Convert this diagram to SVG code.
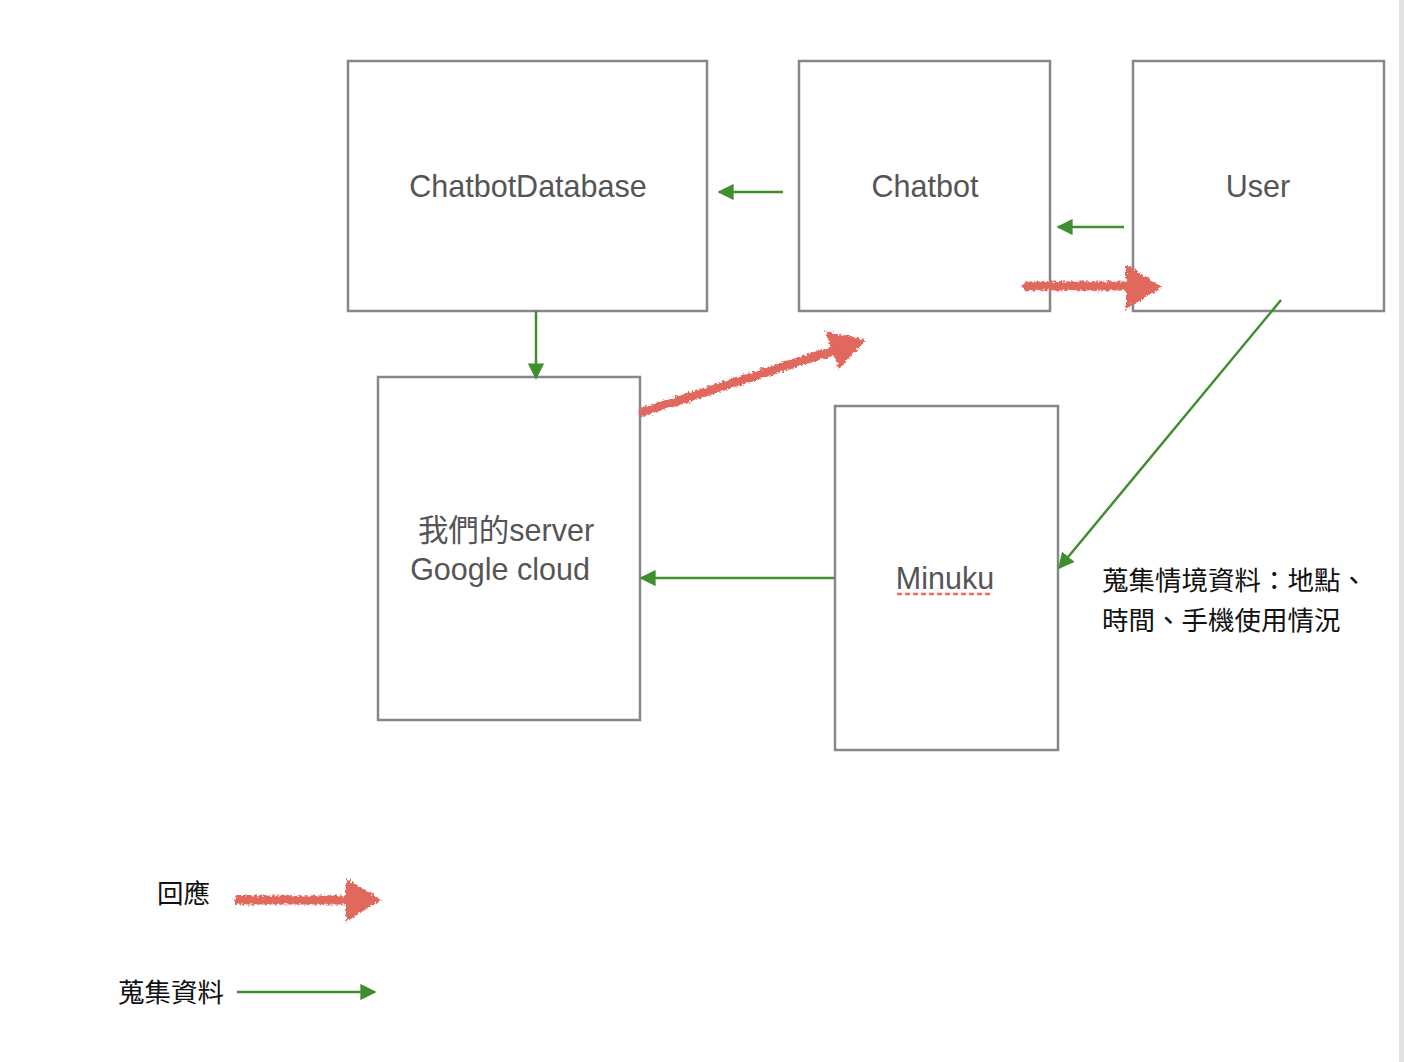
<svg xmlns="http://www.w3.org/2000/svg" width="1404" height="1062" viewBox="0 0 1404 1062">
<style>
.box{fill:#fff;stroke:#87868b;stroke-width:2.5}
.lbl{font-family:"Liberation Sans","Noto Sans CJK TC",sans-serif;font-size:30.5px;fill:#555;text-anchor:middle}
.note{font-family:"Noto Sans CJK TC","Noto Sans CJK SC",sans-serif;font-size:26.5px;fill:#111}
.g{stroke:#3f8f2f;stroke-width:2.5;fill:none;marker-end:url(#gh)}
.r{stroke:#e0685c;stroke-width:9;fill:none;stroke-linecap:round;filter:url(#rough)}
.rh{fill:#e0685c;filter:url(#rough)}
</style>
<defs>
<marker id="gh" viewBox="0 0 10 10" refX="9" refY="5" markerWidth="6.5" markerHeight="6.5" markerUnits="strokeWidth" orient="auto">
<path d="M0,0 L10,5 L0,10 z" fill="#3f8f2f"/>
</marker>
<filter id="rough" filterUnits="userSpaceOnUse" x="0" y="0" width="1404" height="1062">
<feTurbulence type="fractalNoise" baseFrequency="0.4" numOctaves="2" seed="3" result="n"/>
<feDisplacementMap in="SourceGraphic" in2="n" scale="6" xChannelSelector="R" yChannelSelector="G"/>
</filter>
</defs>
<rect x="0" y="0" width="1404" height="1062" fill="#fff"/>
<rect x="1399" y="0" width="5" height="1062" fill="#e2e2e2"/>
<g id="node-chatbotdatabase">
<rect class="box" x="348" y="61" width="359" height="250"/>
<text class="lbl" x="528" y="197">ChatbotDatabase</text>
</g>
<g id="node-chatbot">
<rect class="box" x="799" y="61" width="251" height="250"/>
<text class="lbl" x="925" y="197">Chatbot</text>
</g>
<g id="node-user">
<rect class="box" x="1133" y="61" width="251" height="250"/>
<text class="lbl" x="1258" y="197">User</text>
</g>
<g id="node-server">
<rect class="box" x="378" y="377" width="262" height="343"/>
<text class="lbl" x="506" y="541">我們的server</text>
<text class="lbl" x="500" y="580">Google cloud</text>
</g>
<g id="node-minuku">
<rect class="box" x="835" y="406" width="223" height="344"/>
<text class="lbl" x="945" y="589">Minuku</text>
<line x1="897" y1="594" x2="993" y2="594" stroke="#f06a5e" stroke-width="2.5" stroke-dasharray="5,3"/>
</g>
<g id="connectors">
<line class="g" x1="783" y1="192" x2="719" y2="192"/>
<line class="g" x1="1124" y1="227" x2="1058" y2="227"/>
<line class="g" x1="536" y1="311" x2="536" y2="378"/>
<line class="g" x1="834" y1="578" x2="641" y2="578"/>
<line class="g" x1="1281" y1="300" x2="1059" y2="568"/>
<path class="r" d="M1027,286 L1130,286"/>
<polygon class="rh" points="1126,264 1162,287 1126,309"/>
<path class="r" d="M643,412 L832,351"/>
<polygon class="rh" points="825,331 866,340 839,369"/>
</g>
<g id="legend">
<text class="note" x="157" y="903">回應</text>
<path class="r" d="M239,900 L350,900"/>
<polygon class="rh" points="346,878 381,900 346,922"/>
<text class="note" x="118" y="1002">蒐集資料</text>
<line class="g" x1="237" y1="992" x2="375" y2="992"/>
</g>
<g id="note-context">
<text class="note" x="1102" y="590">蒐集情境資料：地點、</text>
<text class="note" x="1102" y="630">時間、手機使用情況</text>
</g>
</svg>
